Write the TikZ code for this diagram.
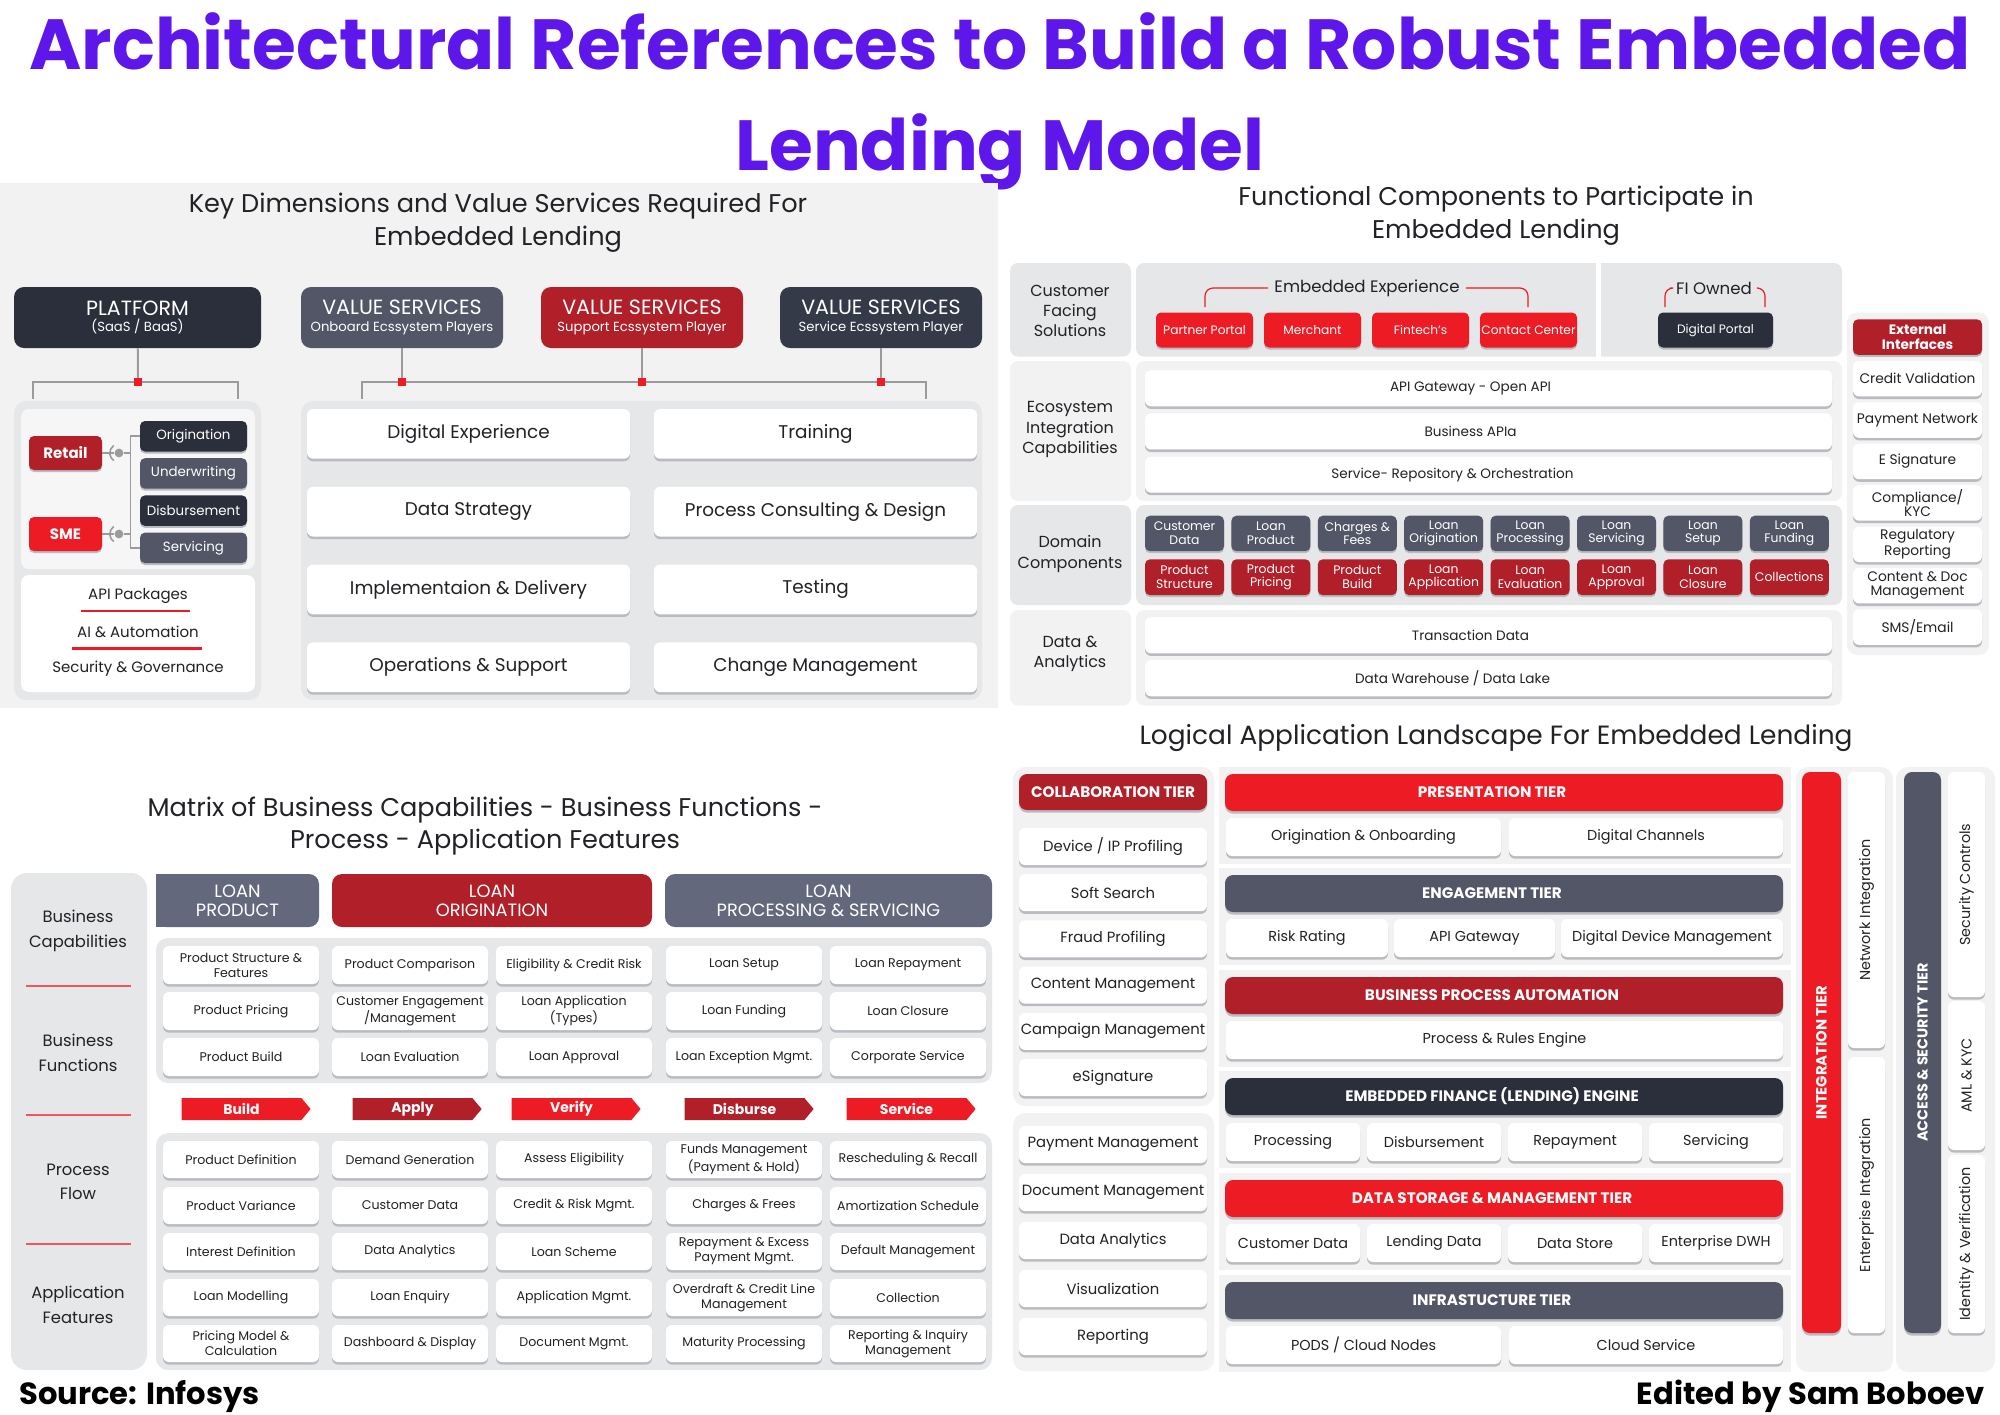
\documentclass[tikz,border=0pt]{standalone}
\usepackage{fontspec}
\setmainfont{Poppins}
\usetikzlibrary{positioning, shapes.symbols, shadows}

\definecolor{titlepurple}{RGB}{94,23,235}
\definecolor{brightred}{RGB}{237,28,36}
\definecolor{darkred}{RGB}{177,31,41}
\definecolor{slate}{RGB}{83,86,103}
\definecolor{slatelight}{RGB}{100,104,124}
\definecolor{navy}{RGB}{43,46,59}
\definecolor{navyb}{RGB}{52,58,72}
\definecolor{panelgrey}{RGB}{230,231,233}
\definecolor{lightgrey}{RGB}{242,242,243}
\definecolor{palegrey}{RGB}{246,246,247}
\definecolor{shadowgrey}{RGB}{186,187,192}
\definecolor{linegrey}{RGB}{155,155,158}
\definecolor{ink}{RGB}{34,34,38}

\newcommand\fs[2]{\fontsize{#1}{#2}\selectfont}
% a node that fills the corners (x1,y1)-(x2,y2), in pixels of the sheet
\newcommand\place[7]{%
  \node[#1, minimum width={((#5)-(#3))*0.5pt}, minimum height={((#6)-(#4))*0.5pt}]
    (#2) at ({((#3)+(#5))/2},{((#4)+(#6))/2}) {#7};}

\begin{document}
\begin{tikzpicture}[
  x=0.5pt, y=-0.5pt,
  every node/.style={inner sep=0pt, align=center, text=ink, font=\fs{7}{8.4}},
  ptitle/.style={font=\fs{12.8}{16.3}},
  head/.style={rounded corners=5pt, text=white},
  card/.style={fill=white, rounded corners=3pt,
               general shadow={fill=shadowgrey, shadow yshift=-1.3pt}},
  tagbox/.style={rounded corners=2.5pt, text=white,
                 general shadow={fill=shadowgrey, shadow yshift=-1pt}},
  tierhead/.style={rounded corners=4pt, text=white, font=\bfseries\fs{7.6}{8.4},
                   general shadow={fill=shadowgrey, shadow yshift=-1.3pt}},
  chev/.style={signal, signal to=east, signal pointer angle=100, text=white,
               font=\bfseries\fs{7}{8}},
  vtext/.style={rotate=90, font=\fs{7.2}{8}},
  tree/.style={draw=linegrey, line width=1pt},
  jn/.style={fill=brightred, minimum size=3.6pt},
  hub/.style={circle, fill=linegrey, minimum size=4.4pt},
  redrule/.style={draw=brightred, line width=1.1pt},
  bracket/.style={draw=brightred, line width=0.6pt, rounded corners=4pt}
]
\useasboundingbox (0,0) rectangle (2000,1414);

% ---------- title ----------
\node[anchor=base, font=\bfseries\fs{35.5}{44}, text=titlepurple] (title1) at (1000,69)
  {Architectural References to Build a Robust Embedded};
\node[anchor=base, font=\bfseries\fs{35.5}{44}, text=titlepurple] (title2) at (1000,170)
  {Lending Model};

% ---------- key dimensions and value services ----------
\fill[lightgrey] (0,183) rectangle (998,708);
\node[ptitle] (kdtitle) at (498,223) {Key Dimensions and Value Services Required For\\Embedded Lending};

\place{head, fill=navy}{platform}{14}{287}{261}{348}{\fs{10.3}{8.6}PLATFORM\\\fs{6.6}{8.6}(SaaS / BaaS)}
\foreach \c/\t/\xa [count=\i] in {slate/Onboard Ecssystem Players/301,
    darkred/Support Ecssystem Player/541, navyb/Service Ecssystem Player/780}{
  \place{head, fill=\c}{vs\i}{\xa}{287}{\xa+202}{348}{\fs{10.3}{8.6}VALUE SERVICES\\\fs{6.6}{8.6}\t}}

\coordinate (pj) at (138,382);
\coordinate (pl) at (33,399);
\coordinate (pr) at (238,399);
\draw[tree] (platform) -- (pj);
\draw[tree] (pl) |- (pj) -| (pr);
\node[jn] (pjn) at (pj) {};
\coordinate (vl) at (362,399);
\coordinate (vr) at (926,399);
\draw[tree] (vl) |- (vs1 |- pj) -- (vs3 |- pj) -| (vr);
\foreach \i in {1,2,3}{
  \draw[tree] (vs\i) -- (vs\i |- pj);
  \node[jn] (vj\i) at (vs\i |- pj) {};}

% platform well
\fill[panelgrey, rounded corners=6pt] (14,401) rectangle (261,700);
\fill[palegrey, rounded corners=4pt] (21,409) rectangle (255,569);
\fill[white, rounded corners=4pt] (21,575) rectangle (255,692);
\place{tagbox, fill=darkred, font=\bfseries\fs{7.5}{9}}{retail}{29}{436}{102}{470}{Retail}
\place{tagbox, fill=brightred, font=\bfseries\fs{7.5}{9}}{sme}{29}{517}{102}{551}{SME}
\foreach \t/\c [count=\i from 0] in {Origination/navy, Underwriting/slate, Disbursement/navy, Servicing/slate}{
  \pgfmathsetmacro\ya{421+37.2*\i}
  \place{tagbox, fill=\c, font=\fs{6.7}{8}}{lc\i}{140}{\ya}{247}{\ya+30.5}{\t}}
\draw[tree, line width=0.8pt] (lc0.west) -- ++(-9,0) |- (lc3.west);
\node[hub] (rhub) at (119,453) {};
\node[hub] (shub) at (119,534) {};
\foreach \h/\b in {rhub/retail, shub/sme}{
  \draw[tree, line width=0.8pt] (\b) -- (\h) -- ++(12,0);
  \draw[linegrey, line width=0.8pt] ([shift={(125:4.6pt)}]\h.center) arc[start angle=125, end angle=235, radius=4.6pt];}
\node[font=\fs{7.5}{9}] (api) at (138,596) {API Packages};
\draw[redrule] (81,611) -- (190,611);
\node[font=\fs{7.5}{9}] (aiauto) at (138,632) {AI \& Automation};
\draw[redrule] (72,648.5) -- (202,648.5);
\node[font=\fs{7.5}{9}] (secgov) at (138,669) {Security \& Governance};

% value services well
\fill[panelgrey, rounded corners=6pt] (301,401) rectangle (982,700);
\foreach \t [count=\i from 0] in {Digital Experience, Training, Data Strategy, Process Consulting \& Design,
    Implementaion \& Delivery, Testing, Operations \& Support, Change Management}{
  \pgfmathsetmacro\xa{307+347*mod(\i,2)}
  \pgfmathsetmacro\ya{409+77.8*int(\i/2)}
  \place{card, font=\fs{9.2}{11}}{vc\i}{\xa}{\ya}{\xa+323}{\ya+49.7}{\t}}

% ---------- functional components ----------
\node[ptitle] (fctitle) at (1496,216) {Functional Components to Participate in\\Embedded Lending};
\foreach \ya/\yb/\c in {263/356.5/panelgrey, 361/501/lightgrey, 505/605/panelgrey, 610/705.5/lightgrey}{
  \fill[\c, rounded corners=4pt] (1010,\ya) rectangle (1131,\yb);
  \fill[\c, rounded corners=4pt] (1136,\ya) rectangle (1842,\yb);}
\fill[white] (1596,263) rectangle (1601,356.5);
\node[font=\fs{8}{10.15}] (rl1) at (1070,311) {Customer\\Facing\\Solutions};
\node[font=\fs{8}{10.15}] (rl2) at (1070,429.5) {Ecosystem\\Integration\\Capabilities};
\node[font=\fs{8}{10.15}] (rl3) at (1070,554) {Domain\\Components};
\node[font=\fs{8}{10.15}] (rl4) at (1070,654) {Data \&\\Analytics};

\node[font=\fs{8.3}{10}, inner sep=3pt] (eetxt) at (1367,288) {Embedded Experience};
\draw[bracket] (1205,307) |- (eetxt.west);
\draw[bracket] (eetxt.east) -| (1528,307);
\node[font=\fs{8.3}{10}, inner sep=3pt] (fitxt) at (1714,288) {FI Owned};
\draw[bracket] (1665,307) |- (fitxt.west);
\draw[bracket] (fitxt.east) -| (1765,307);
\foreach \t [count=\i from 0] in {Partner Portal, Merchant, Fintech's, Contact Center}{
  \pgfmathsetmacro\xa{1156+108*\i}
  \place{tagbox, fill=brightred, font=\fs{6.1}{7}}{ee\i}{\xa}{312.5}{\xa+97}{347.5}{\t}}
\place{tagbox, fill=navy, font=\fs{6.1}{7}}{fiportal}{1658}{312.5}{1773}{347.5}{Digital Portal}

\foreach \t/\s [count=\i from 0] in {API Gateway - Open API/18pt, Business APIa/18pt,
    Service- Repository \& Orchestration/36pt}{
  \pgfmathsetmacro\ya{370.3+43.15*\i}
  \place{card, font=\fs{6.8}{8}}{eic\i}{1145}{\ya}{1832}{\ya+36}{\t\hspace*{\s}}}
\foreach \t [count=\i from 0] in {Customer\\Data, Loan\\Product, Charges \&\\Fees, Loan\\Origination,
    Loan\\Processing, Loan\\Servicing, Loan\\Setup, Loan\\Funding}{
  \pgfmathsetmacro\xa{1145+86.4*\i}
  \place{tagbox, fill=slate, font=\fs{6.2}{6.8}}{dt\i}{\xa}{515.7}{\xa+79}{551.2}{\t}}
\foreach \t [count=\i from 0] in {Product\\Structure, Product\\Pricing, Product\\Build, Loan\\Application,
    Loan\\Evaluation, Loan\\Approval, Loan\\Closure, Collections}{
  \pgfmathsetmacro\xa{1145+86.4*\i}
  \place{tagbox, fill=darkred, font=\fs{6.2}{6.8}}{db\i}{\xa}{559.3}{\xa+79}{595.2}{\t}}
\place{card, font=\fs{6.8}{8}}{trdata}{1145}{617.2}{1832}{653.3}{Transaction Data\hspace*{18pt}}
\place{card, font=\fs{6.8}{8}}{dwdata}{1145}{660.1}{1832}{696.3}{Data Warehouse / Data Lake\hspace*{36pt}}

\fill[lightgrey, rounded corners=5pt] (1847,312.5) rectangle (1989,655);
\place{tagbox, fill=darkred, font=\bfseries\fs{6.8}{7.2}}{exthead}{1853}{319.3}{1982}{354.8}{External\\Interfaces}
\foreach \t [count=\i from 0] in {Credit Validation, Payment Network, E Signature, Compliance/\\KYC,
    Regulatory\\Reporting, Content \& Doc\\Management, SMS/Email}{
  \pgfmathsetmacro\ya{360.9+41.4*\i}
  \place{card, font=\fs{6.9}{6.9}}{ext\i}{1853}{\ya}{1982}{\ya+35.5}{\t}}

% ---------- capability matrix ----------
\node[ptitle] (mxtitle) at (485,826) {Matrix of Business Capabilities - Business Functions -\\Process - Application Features};
\fill[panelgrey, rounded corners=8pt] (11,873) rectangle (147,1370);
\foreach \t/\y [count=\i] in {Business\\Capabilities/931, Business\\Functions/1053,
    Process\\Flow/1182, Application\\Features/1305}{
  \node[font=\fs{8.2}{12.2}] (ml\i) at (78,\y) {\t};}
\foreach \y in {986,1115,1244}{\draw[redrule, draw=brightred!75] (26,\y) -- (131,\y);}

\fill[slatelight] (156,874) rectangle (200,927);
\foreach \t/\c/\xa/\xb [count=\i] in {PRODUCT/slatelight/156/319, ORIGINATION/darkred/332/652,
    PROCESSING \& SERVICING/slatelight/665/992}{
  \place{head, fill=\c, font=\fs{8.9}{9.5}}{mh\i}{\xa}{874}{\xb}{927}{LOAN\\\t}}

\fill[panelgrey, rounded corners=6pt] (156,938) rectangle (992,1083);
\foreach \t [count=\i from 0] in {Product Structure \&\\Features, Product Comparison, Eligibility \& Credit Risk, Loan Setup, Loan Repayment,
    Product Pricing, Customer Engagement\\/Management, Loan Application\\(Types), Loan Funding, Loan Closure,
    Product Build, Loan Evaluation, Loan Approval, Loan Exception Mgmt., Corporate Service}{
  \pgfmathsetmacro\xa{{163,332,496,666,830}[mod(\i,5)]}
  \pgfmathsetmacro\ya{946+46*int(\i/5)}
  \place{card, font=\fs{6.3}{7.4}}{bf\i}{\xa}{\ya}{\xa+156}{\ya+38}{\t}}

\foreach \t/\c/\xa [count=\i] in {Build/brightred/177, Apply/darkred/348, Verify/brightred/507,
    Disburse/darkred/680, Service/brightred/842}{
  \place{chev, fill=\c}{pf\i}{\xa}{1098}{\xa+129}{1120}{\t}}

\fill[panelgrey, rounded corners=6pt] (156,1133) rectangle (992,1370);
\foreach \t [count=\i from 0] in {Product Definition, Demand Generation, Assess Eligibility, Funds Management\\(Payment \& Hold), Rescheduling \& Recall,
    Product Variance, Customer Data, Credit \& Risk Mgmt., Charges \& Frees, Amortization Schedule,
    Interest Definition, Data Analytics, Loan Scheme, Repayment \& Excess\\Payment Mgmt., Default Management,
    Loan Modelling, Loan Enquiry, Application Mgmt., Overdraft \& Credit Line\\Management, Collection,
    Pricing Model \&\\Calculation, Dashboard \& Display, Document Mgmt., Maturity Processing, Reporting \& Inquiry\\Management}{
  \pgfmathsetmacro\xa{{163,332,496,666,830}[mod(\i,5)]}
  \pgfmathsetmacro\ya{1141+46*int(\i/5)}
  \place{card, font=\fs{6.3}{7.4}}{af\i}{\xa}{\ya}{\xa+156}{\ya+37}{\t}}

\node[anchor=base west, font=\bfseries\fs{15.3}{17}, text=black] (source) at (19,1404) {Source: Infosys};

% ---------- logical application landscape ----------
\node[font=\fs{13.2}{16}, anchor=base] (latitle) at (1496,744) {Logical Application Landscape For Embedded Lending};
\fill[lightgrey, rounded corners=6pt] (1013,767) rectangle (1214,1106);
\fill[lightgrey, rounded corners=6pt] (1013,1113) rectangle (1214,1371);
\place{tierhead, fill=darkred}{collab}{1019}{774}{1207}{810}{COLLABORATION TIER}
\foreach \t [count=\i from 0] in {Device \slash{} IP Profiling, Soft Search, Fraud Profiling,
    Content Management, Campaign Management, eSignature}{
  \pgfmathsetmacro\ya{828+46.2*\i}
  \place{card, font=\fs{7.4}{9}}{co\i}{1019}{\ya}{1207}{\ya+37}{\t}}
\foreach \t [count=\i from 0] in {Payment Management, Document Management, Data Analytics, Visualization, Reporting}{
  \pgfmathsetmacro\ya{1126+48*\i}
  \place{card, font=\fs{7.4}{9}}{cp\i}{1019}{\ya}{1207}{\ya+37}{\t}}

\foreach \t/\c/\ya [count=\i] in {PRESENTATION TIER/brightred/774, ENGAGEMENT TIER/slate/875,
    BUSINESS PROCESS AUTOMATION/darkred/977, EMBEDDED FINANCE (LENDING) ENGINE/navy/1078,
    DATA STORAGE \& MANAGEMENT TIER/brightred/1180, INFRASTUCTURE TIER/slate/1282}{
  \fill[lightgrey] (1219,\ya-7) rectangle (1791,\ya+90);
  \place{tierhead, fill=\c}{tier\i}{1225}{\ya}{1783}{\ya+37}{\t\hspace*{12pt}}}
\foreach \t/\xa/\xb/\ya [count=\i] in {
    Origination \& Onboarding/1226/1501/818, Digital Channels/1509/1783/818,
    Risk Rating/1226/1388/919, API Gateway/1394/1555/919, Digital Device Management/1561/1783/919,
    Process \& Rules Engine/1226/1783/1021,
    Processing/1226/1360/1123, Disbursement/1367/1501/1123, Repayment/1508/1642/1123, Servicing/1649/1783/1123,
    Customer Data/1226/1360/1224, Lending Data/1367/1501/1224, Data Store/1508/1642/1224, Enterprise DWH/1649/1783/1224,
    PODS \slash{} Cloud Nodes/1226/1501/1326, Cloud Service/1509/1783/1326}{
  \place{card, font=\fs{7.2}{8.5}}{tc\i}{\xa}{\ya}{\xb}{\ya+38}{\t}}

\fill[lightgrey, rounded corners=6pt] (1796,767) rectangle (1893,1372);
\fill[lightgrey, rounded corners=6pt] (1896,767) rectangle (1995,1372);
\place{tierhead, fill=brightred}{intbar}{1802}{772}{1841}{1333}{}
\node[vtext, text=white, font=\bfseries\fs{7.4}{8}] (intlab) at (intbar) {INTEGRATION TIER};
\place{card}{netcard}{1848}{772}{1885}{1048}{}
\node[vtext] (netlab) at (netcard) {Network Integration};
\place{card}{entcard}{1848}{1057}{1885}{1333}{}
\node[vtext] (entlab) at (entcard) {Enterprise Integration};
\place{tierhead, fill=slate}{accbar}{1904}{772}{1941}{1333}{}
\node[vtext, text=white, font=\bfseries\fs{7.2}{8}] (acclab) at (accbar) {ACCESS \& SECURITY TIER};
\place{card}{seccard}{1948}{772}{1985}{997}{}
\node[vtext] (seclab) at (seccard) {Security Controls};
\place{card}{amlcard}{1948}{1001}{1985}{1150}{}
\node[vtext] (amllab) at (amlcard) {AML \& KYC};
\place{card}{idcard}{1948}{1155}{1985}{1333}{}
\node[vtext] (idlab) at (idcard) {Identity \& Verification};

\node[anchor=base east, font=\bfseries\fs{15.3}{17}, text=black] (edited) at (1985,1404) {Edited by Sam Boboev};
\end{tikzpicture}
\end{document}
